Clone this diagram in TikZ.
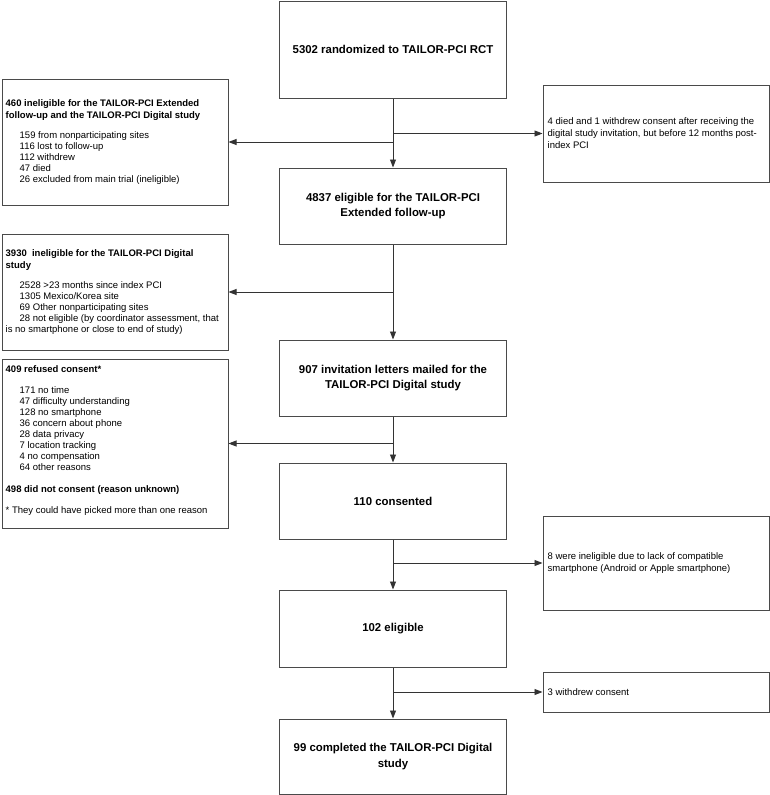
\documentclass[tikz,border=0pt]{standalone}
\usepackage{fontspec}
\setmainfont{Liberation Sans}
\usetikzlibrary{arrows.meta}
\definecolor{bd}{HTML}{4A4A4A}
\definecolor{ln}{HTML}{333333}
\begin{document}
\begin{tikzpicture}[x=1pt,y=-1pt,
  box/.style={draw=bd, line width=1pt, inner sep=0pt},
  mainbox/.style={box, minimum width=227pt, font=\fontsize{11.4}{15.5}\selectfont\bfseries, align=center},
  leftbox/.style={box, minimum width=226pt},
  rightbox/.style={box, minimum width=226pt},
  side/.style={font=\fontsize{9.5}{11}\selectfont, align=left, inner sep=0pt, anchor=west},
  arr/.style={draw=ln, line width=0.9pt, -{Triangle[length=8pt,width=6pt]}}
]
\useasboundingbox (0,0) rectangle (770,795);

% main column
\node[mainbox, minimum height=97pt] (b1) at (393,49.5) {5302 randomized to TAILOR-PCI RCT};
\node[mainbox, minimum height=76pt] (b2) at (393,206) {4837 eligible for the TAILOR-PCI\\Extended follow-up};
\node[mainbox, minimum height=76pt] (b3) at (393,378) {907 invitation letters mailed for the\\TAILOR-PCI Digital study};
\node[mainbox, minimum height=76pt] (b4) at (393,501) {110 consented};
\node[mainbox, minimum height=77pt] (b5) at (393,628.5) {102 eligible};
\node[mainbox, minimum height=75pt] (b6) at (393,756.5) {99 completed the TAILOR-PCI Digital\\study};

% left boxes
\node[leftbox, minimum height=126pt] (L1) at (115,142) {};
\node[side] (L1t) at ([xshift=4pt]L1.west) {%
\textbf{460 ineligible for the TAILOR-PCI Extended}\\[1.7pt]
\textbf{follow-up and the TAILOR-PCI Digital study}\\[9pt]
\hspace*{14pt}159 from nonparticipating sites\\
\hspace*{14pt}116 lost to follow-up\\
\hspace*{14pt}112 withdrew\\
\hspace*{14pt}47 died\\
\hspace*{14pt}26 excluded from main trial (ineligible)};

\node[leftbox, minimum height=116pt] (L2) at (115,292) {};
\node[side] (L2t) at ([xshift=4pt]L2.west) {%
\textbf{3930\ \ ineligible for the TAILOR-PCI Digital}\\[1.7pt]
\textbf{study}\\[9pt]
\hspace*{14pt}2528 >23 months since index PCI\\
\hspace*{14pt}1305 Mexico/Korea site\\
\hspace*{14pt}69 Other nonparticipating sites\\
\hspace*{14pt}28 not eligible (by coordinator assessment, that\\
is no smartphone or close to end of study)};

\node[leftbox, minimum height=169pt] (L3) at (115,443.5) {};
\node[side] (L3t) at ([xshift=4pt,yshift=3pt]L3.west) {%
\textbf{409 refused consent*}\\[10pt]
\hspace*{14pt}171 no time\\
\hspace*{14pt}47 difficulty understanding\\
\hspace*{14pt}128 no smartphone\\
\hspace*{14pt}36 concern about phone\\
\hspace*{14pt}28 data privacy\\
\hspace*{14pt}7 location tracking\\
\hspace*{14pt}4 no compensation\\
\hspace*{14pt}64 other reasons\\[11pt]
\textbf{498 did not consent (reason unknown)}\\[10pt]
* They could have picked more than one reason};

% right boxes
\node[rightbox, minimum height=97pt] (R1) at (656,133.5) {};
\node[side, font=\fontsize{9.5}{12}\selectfont] (R1t) at ([xshift=5pt]R1.west) {%
4 died and 1 withdrew consent after receiving the\\
digital study invitation, but before 12 months post-\\
index PCI};

\node[rightbox, minimum height=94pt] (R2) at (656,563) {};
\node[side, font=\fontsize{9.5}{12}\selectfont] (R2t) at ([xshift=5pt]R2.west) {%
8 were ineligible due to lack of compatible\\
smartphone (Android or Apple smartphone)};

\node[rightbox, minimum height=40pt] (R3) at (656,692) {};
\node[side] (R3t) at ([xshift=5pt]R3.west) {3 withdrew consent};

% vertical arrows
\draw[arr] (b1) -- (b2);
\draw[arr] (b2) -- (b3);
\draw[arr] (b3) -- (b4);
\draw[arr] (b4) -- (b5);
\draw[arr] (b5) -- (b6);

% branches
\draw[arr] (b1.south |- R1.west) -- (R1.west);
\draw[arr] (b1.south |- L1.east) -- (L1.east);
\draw[arr] (b2.south |- L2.east) -- (L2.east);
\draw[arr] (b3.south |- L3.east) -- (L3.east);
\draw[arr] (b4.south |- R2.west) -- (R2.west);
\draw[arr] (b5.south |- R3.west) -- (R3.west);
\end{tikzpicture}
\end{document}
